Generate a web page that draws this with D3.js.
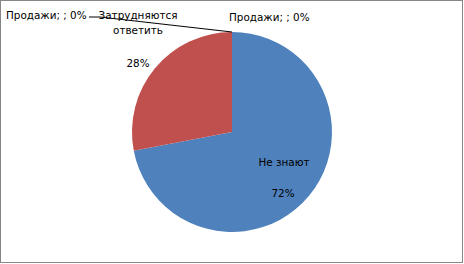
<!DOCTYPE html>
<html>
<head>
<meta charset="utf-8">
<script src="https://cdn.jsdelivr.net/npm/d3@7"></script>
<style>
body { margin: 0; background: #fff; }
text { font-family: "DejaVu Sans", sans-serif; font-size: 10.4px; fill: #000; }
</style>
</head>
<body>
<script>
var categories = ["Не знают", "Затрудняются ответить", "Продажи", "Продажи"]
var values = [72, 28, 0, 0]
var colors = ["#4F81BD", "#C0504D", "#9BBB59", "#8064A2"]

var width = 464, height = 264
var cx = 232, cy = 132, radius = 100

var svg = d3.select("body")
	.append("svg")
	.attr("width", width)
	.attr("height", height);

svg.append("rect")
	.attr("x", 0.5)
	.attr("y", 0.5)
	.attr("width", width - 2)
	.attr("height", height - 2)
	.attr("fill", "white")
	.attr("stroke", "#868686");

var pie = d3.pie().sort(null).value(function(d) { return d })
var arcs = pie(values)
var arc = d3.arc().innerRadius(0).outerRadius(radius)

var g = svg.append("g").attr("transform", "translate(" + cx + "," + cy + ")")

g.selectAll("path")
	.data(arcs)
	.enter()
	.append("path")
	.attr("d", arc)
	.attr("fill", function(d, i) { return colors[i] });

// label placement: offsets from pie center, one per slice
var labelLines = [
	[["Не знают", 52, 34], ["72%", 51, 65]],
	[["Затрудняются", -94, -113], ["ответить", -94, -98], ["28%", -94, -65]],
	[["Продажи; ; 0%", -226, -113]],
	[["Продажи; ; 0%", -3, -111]]
]

// leader line from left zero label to the top of the pie
var edge = [Math.sin(arcs[2].startAngle) * radius, -Math.cos(arcs[2].startAngle) * radius]
svg.append("polyline")
	.attr("points", [[89, 17], [100, 17], [cx + edge[0], cy + edge[1]]].map(function(p) { return p.join(",") }).join(" "))
	.attr("fill", "none")
	.attr("stroke", "#000")
	.attr("stroke-width", 1);

labelLines.forEach(function(lines, i) {
	lines.forEach(function(l) {
		g.append("text")
			.attr("x", l[1])
			.attr("y", l[2])
			.attr("text-anchor", i >= 2 ? "start" : "middle")
			.text(l[0]);
	})
})
</script>
</body>
</html>
